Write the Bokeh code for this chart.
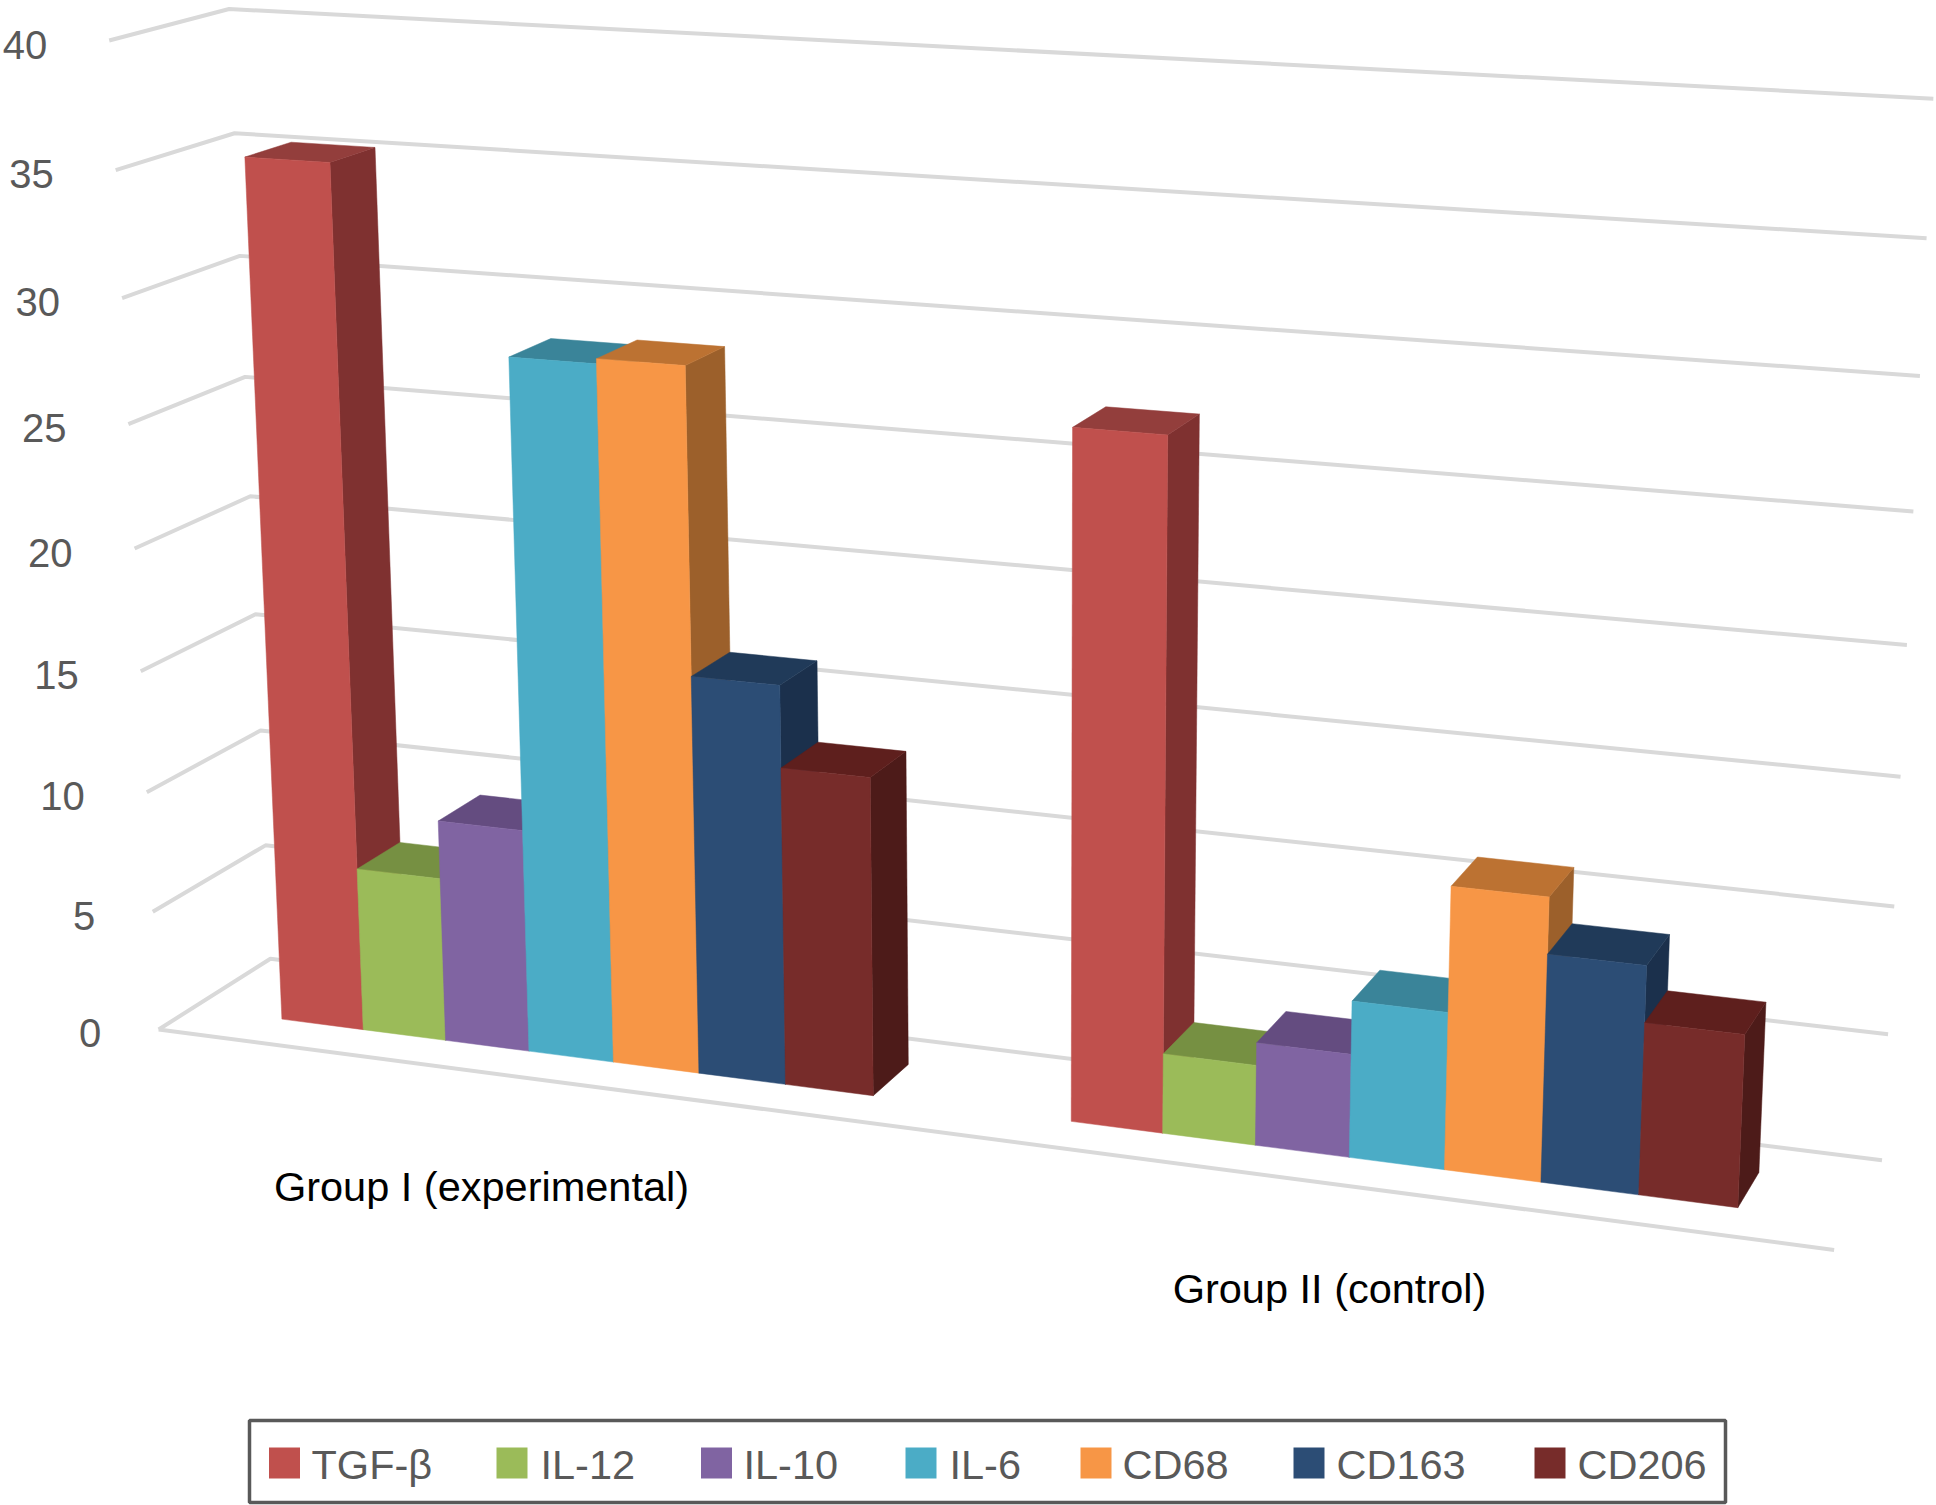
import numpy as np
from bokeh.plotting import figure
from bokeh.models import Range1d
from bokeh.core.properties import value
from bokeh.embed import file_html
from bokeh.resources import INLINE

# ---- data ----
groups = ["Group I (experimental)", "Group II (control)"]
series = ["TGF-β", "IL-12", "IL-10", "IL-6", "CD68", "CD163", "CD206"]
group_1 = [35.3, 6.8, 9.2, 28.2, 28.4, 16.2, 12.9]
group_2 = [27.2, 3.2, 4.1, 6.2, 11.1, 8.9, 6.7]
y_ticks = [0, 5, 10, 15, 20, 25, 30, 35, 40]

front_colors = ["#C0504D", "#9BBB59", "#8064A2", "#4BACC6", "#F79646", "#2C4D75", "#772C2A"]
top_colors = ["#933E3C", "#769042", "#644C80", "#3A8499", "#BC7232", "#203A59", "#5E1F1D"]
side_colors = ["#7F3130", "#5F7A36", "#4F3D66", "#2F6C7E", "#9C602B", "#1B304C", "#4D1B19"]

# ---- camera calibration: (u, w, value) -> picture position ----
cal_v = [0, 5, 10, 15, 20, 25, 30, 35, 40]
cal_fl = [(159, 1028.5), (152.5, 911), (146, 792), (140, 670), (134, 549), (127, 425), (121, 297.6), (115, 169), (109.5, 39.7)]
cal_br = [(1881.6, 1160), (1888, 1034), (1894.5, 905), (1900, 776), (1906, 645), (1912, 512.4), (1919, 376), (1926, 237), (1933, 97.6)]
cal_bl = {0: (269, 958), 5: (265, 845), 10: (260, 730), 35: (235, 133), 40: (229, 8)}
cal_fr0 = (1834, 1249)

pts = []
for v, a, b in zip(cal_v, cal_fl, cal_br):
    pts.append(((0, 0, v / 40), a))
    pts.append(((1, 1, v / 40), b))
for v, a in cal_bl.items():
    pts.append(((0, 1, v / 40), a))
pts.append(((1, 0, 0), cal_fr0))
A = []
for (u, w, t), (x, y) in pts:
    X = [u, w, t, 1.0]
    x, y = x / 1936, y / 1505
    A.append(X + [0, 0, 0, 0] + [-x * c for c in X])
    A.append([0, 0, 0, 0] + X + [-y * c for c in X])
P = np.linalg.svd(np.array(A))[2][-1].reshape(3, 4)


def proj(u, w, v):
    q = P @ np.array([u, w, v / 40, 1.0])
    return q[0] / q[2] * 1936, q[1] / q[2] * 1505


# ---- layout of bars on the floor ----
W0, W1 = 0.30, 0.70
GROUP_W = 0.5
GAP = 0.06
BAR_W = (GROUP_W - 2 * GAP) / len(series)

p = figure(width=1936, height=1505, output_backend="svg", toolbar_location=None,
           x_range=Range1d(0, 1936), y_range=Range1d(1505, 0), min_border=0,
           outline_line_color=None, background_fill_color="white")
p.axis.visible = False
p.grid.visible = False

# gridlines
GRID = "#D9D9D9"
xs, ys = [], []
for v in y_ticks:
    c = [proj(0, 0, v), proj(0, 1, v), proj(1, 1, v)]
    xs.append([a[0] for a in c])
    ys.append([a[1] for a in c])
c = [proj(0, 0, 0), proj(1, 0, 0)]
xs.append([a[0] for a in c])
ys.append([a[1] for a in c])
p.multi_line(xs, ys, line_color=GRID, line_width=4)

# bars
px, py, pc = [], [], []


def add(corners, color):
    px.append([a[0] for a in corners])
    py.append([a[1] for a in corners])
    pc.append(color)


for g, vals in enumerate([group_1, group_2]):
    for i, v in enumerate(vals):
        u0 = g * GROUP_W + GAP + i * BAR_W
        u1 = u0 + BAR_W
        add([proj(u1, W0, 0), proj(u1, W1, 0), proj(u1, W1, v), proj(u1, W0, v)], side_colors[i])
        add([proj(u0, W0, v), proj(u1, W0, v), proj(u1, W1, v), proj(u0, W1, v)], top_colors[i])
        add([proj(u0, W0, 0), proj(u1, W0, 0), proj(u1, W0, v), proj(u0, W0, v)], front_colors[i])
p.patches(px, py, fill_color=pc, line_color=pc, line_width=0.5)

FONT = value("Liberation Sans")
TXT = "#595959"

# y tick labels (one-digit labels sit a little closer to the axis)
tx = [proj(0, 0, v)[0] + (-57.5 if v < 10 else -62) for v in y_ticks]
ty = [proj(0, 0, v)[1] for v in y_ticks]
p.text(tx, ty, text=[str(v) for v in y_ticks], text_font=FONT, text_font_size="40px",
       text_color=TXT, text_align="right", text_baseline="middle", y_offset=4)

# group labels
p.text([481, 1329], [1186, 1288], text=groups, text_font=FONT, text_font_size="41.5px",
       text_color="black", text_align="center", text_baseline="middle")

# legend
LEG_X0, LEG_X1, LEG_Y0, LEG_Y1 = 249, 1725, 1420, 1502
p.quad(left=[LEG_X0], right=[LEG_X1], top=[LEG_Y0], bottom=[LEG_Y1], fill_color=None,
       line_color="#595959", line_width=3.5)
swatch_x = [268.5, 496, 700.5, 905, 1080, 1293, 1534]
label_x = [311, 540, 743, 949, 1122, 1336, 1577]
SW = 31
p.quad(left=swatch_x, right=[a + SW for a in swatch_x], top=[1447] * 7, bottom=[1447 + SW] * 7,
       fill_color=front_colors, line_color=None)
p.text(label_x, [1464] * 7, text=series, text_font=FONT, text_font_size="41.5px",
       text_color=TXT, text_align="left", text_baseline="middle")

open("out.html", "w").write(file_html(p, INLINE))
